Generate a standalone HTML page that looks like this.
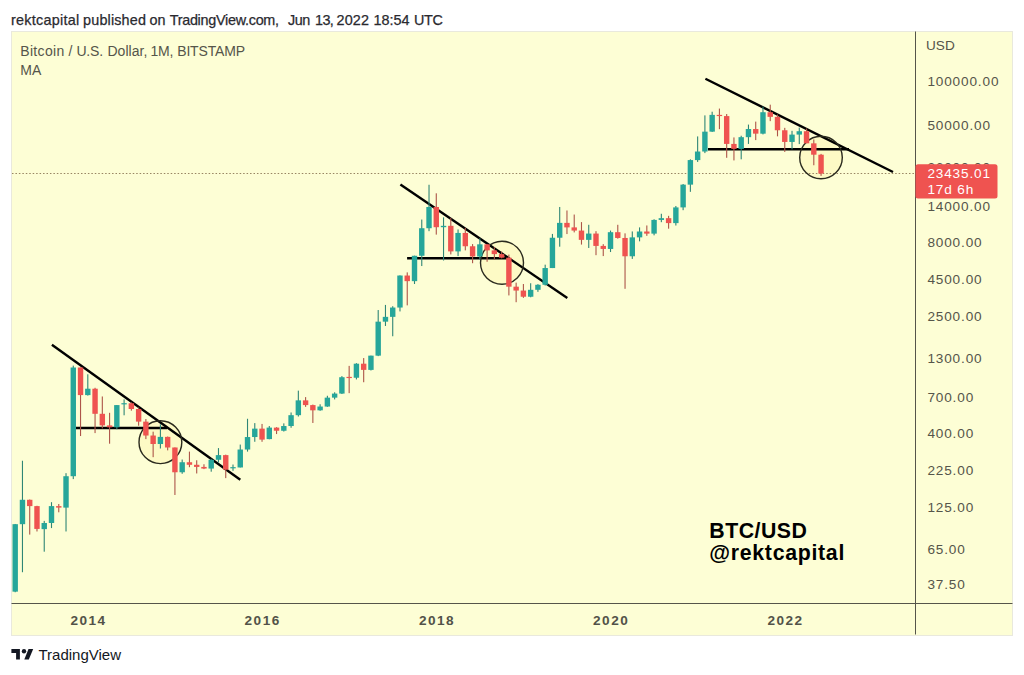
<!DOCTYPE html>
<html><head><meta charset="utf-8">
<style>
html,body{margin:0;padding:0;background:#fff;width:1024px;height:675px;overflow:hidden}
svg{display:block}
text{font-family:"Liberation Sans",sans-serif}
.ax{font-size:13.6px;fill:#55554a;letter-spacing:0.85px}
.xl{font-size:13.6px;font-weight:bold;fill:#525248;letter-spacing:1.5px}
</style></head><body>
<svg width="1024" height="675" viewBox="0 0 1024 675">
<rect x="0" y="0" width="1024" height="675" fill="#ffffff"/>
<text y="24.9" font-size="14.4" fill="#2a2a2f" stroke="#2a2a2f" stroke-width="0.25"><tspan x="11.00" letter-spacing="0.25">rektcapital</tspan><tspan x="83.10" letter-spacing="0.15">published</tspan><tspan x="149.50" letter-spacing="0">on</tspan><tspan x="169.70" letter-spacing="-0.28">TradingView.com,</tspan><tspan x="287.90" letter-spacing="-0.45">Jun</tspan><tspan x="315.00" letter-spacing="-0.6">13,</tspan><tspan x="336.60" letter-spacing="0.12">2022</tspan><tspan x="373.60" letter-spacing="0">18:54</tspan><tspan x="414.10" letter-spacing="-0.45">UTC</tspan></text>
<rect x="11.5" y="31.5" width="1001" height="604" fill="#fdfed5" stroke="#e9e9dd" stroke-width="1"/>
<text y="55.8" font-size="14" fill="#55554a"><tspan x="20.20" letter-spacing="0.35">Bitcoin</tspan><tspan x="68.60" letter-spacing="0">/</tspan><tspan x="76.40" letter-spacing="-0.2">U.S.</tspan><tspan x="107.40" letter-spacing="0.05">Dollar,</tspan><tspan x="150.60" letter-spacing="-0.3">1M,</tspan><tspan x="177.20" letter-spacing="-0.15">BITSTAMP</tspan></text>
<text x="20.3" y="75" font-size="14" fill="#55554a">MA</text>
<text x="926" y="50.2" font-size="13.6" fill="#55554a">USD</text>
<g fill="rgba(255,230,120,0.16)">
<circle cx="160.4" cy="442.2" r="21.4"/>
<circle cx="502" cy="262.7" r="21.5"/>
<circle cx="821" cy="157.5" r="21.3"/>
</g>
<line x1="12" y1="173.57" x2="915" y2="173.57" stroke="#978462" stroke-width="1.1" stroke-dasharray="1.5,1.95"/>
<!-- drawings -->
<g stroke="#000" stroke-width="2.4" stroke-linecap="butt" fill="none">
<line x1="51.9" y1="344.7" x2="240.3" y2="479.8"/>
<line x1="76" y1="428" x2="167" y2="428"/>
<line x1="400.4" y1="184.5" x2="567.3" y2="298"/>
<line x1="407.1" y1="258.3" x2="509.3" y2="258.3"/>
<line x1="705.4" y1="78.8" x2="893" y2="172"/>
<line x1="708" y1="149.3" x2="849" y2="149.3"/>
</g>
<g stroke="#2a2a1e" stroke-width="1.4" fill="none">
<circle cx="160.4" cy="442.2" r="21.4"/>
<circle cx="502" cy="262.7" r="21.5"/>
<circle cx="821" cy="157.5" r="21.3"/>
</g>
<g>
<rect x="14.65" y="523.97" width="1.1" height="68.26" fill="#2f8676"/>
<rect x="12.50" y="524.17" width="5.4" height="67.49" fill="#26a69a"/>
<rect x="21.91" y="460.74" width="1.1" height="111.48" fill="#2f8676"/>
<rect x="19.76" y="499.78" width="5.4" height="24.39" fill="#26a69a"/>
<rect x="29.17" y="499.55" width="1.1" height="35.04" fill="#ad5549"/>
<rect x="27.02" y="499.78" width="5.4" height="6.32" fill="#ef5350"/>
<rect x="36.43" y="505.80" width="1.1" height="25.67" fill="#ad5549"/>
<rect x="34.28" y="506.10" width="5.4" height="22.82" fill="#ef5350"/>
<rect x="43.69" y="520.88" width="1.1" height="30.81" fill="#2f8676"/>
<rect x="41.54" y="522.99" width="5.4" height="6.15" fill="#26a69a"/>
<rect x="50.95" y="502.18" width="1.1" height="25.89" fill="#2f8676"/>
<rect x="48.80" y="506.10" width="5.4" height="16.89" fill="#26a69a"/>
<rect x="58.21" y="503.99" width="1.1" height="8.30" fill="#ad5549"/>
<rect x="56.06" y="506.10" width="5.4" height="1.52" fill="#ef5350"/>
<rect x="65.47" y="473.16" width="1.1" height="58.31" fill="#2f8676"/>
<rect x="63.32" y="476.22" width="5.4" height="31.40" fill="#26a69a"/>
<rect x="72.73" y="365.61" width="1.1" height="113.49" fill="#2f8676"/>
<rect x="70.58" y="367.51" width="5.4" height="108.70" fill="#26a69a"/>
<rect x="79.99" y="367.51" width="1.1" height="68.52" fill="#ad5549"/>
<rect x="77.84" y="367.51" width="5.4" height="27.58" fill="#ef5350"/>
<rect x="87.25" y="374.29" width="1.1" height="21.29" fill="#2f8676"/>
<rect x="85.10" y="388.72" width="5.4" height="6.38" fill="#26a69a"/>
<rect x="94.51" y="387.77" width="1.1" height="45.33" fill="#ad5549"/>
<rect x="92.36" y="388.72" width="5.4" height="25.09" fill="#ef5350"/>
<rect x="101.77" y="396.47" width="1.1" height="31.88" fill="#ad5549"/>
<rect x="99.62" y="413.80" width="5.4" height="11.60" fill="#ef5350"/>
<rect x="109.03" y="412.82" width="1.1" height="30.88" fill="#ad5549"/>
<rect x="106.88" y="425.40" width="5.4" height="1.89" fill="#ef5350"/>
<rect x="116.29" y="405.09" width="1.1" height="24.15" fill="#2f8676"/>
<rect x="114.14" y="405.09" width="5.4" height="22.20" fill="#26a69a"/>
<rect x="123.55" y="399.40" width="1.1" height="15.90" fill="#2f8676"/>
<rect x="121.40" y="403.17" width="5.4" height="1.20" fill="#26a69a"/>
<rect x="130.81" y="402.28" width="1.1" height="8.38" fill="#ad5549"/>
<rect x="128.66" y="403.27" width="5.4" height="5.73" fill="#ef5350"/>
<rect x="138.07" y="407.39" width="1.1" height="18.35" fill="#ad5549"/>
<rect x="135.92" y="409.00" width="5.4" height="12.62" fill="#ef5350"/>
<rect x="145.33" y="419.02" width="1.1" height="20.08" fill="#ad5549"/>
<rect x="143.18" y="421.63" width="5.4" height="13.90" fill="#ef5350"/>
<rect x="152.59" y="431.68" width="1.1" height="25.48" fill="#ad5549"/>
<rect x="150.44" y="435.53" width="5.4" height="8.47" fill="#ef5350"/>
<rect x="159.85" y="424.34" width="1.1" height="24.16" fill="#2f8676"/>
<rect x="157.70" y="436.87" width="5.4" height="7.14" fill="#26a69a"/>
<rect x="167.11" y="436.53" width="1.1" height="13.82" fill="#ad5549"/>
<rect x="164.96" y="436.87" width="5.4" height="10.63" fill="#ef5350"/>
<rect x="174.37" y="447.49" width="1.1" height="47.49" fill="#ad5549"/>
<rect x="172.22" y="447.49" width="5.4" height="24.78" fill="#ef5350"/>
<rect x="181.63" y="459.53" width="1.1" height="14.24" fill="#2f8676"/>
<rect x="179.48" y="462.23" width="5.4" height="10.04" fill="#26a69a"/>
<rect x="188.89" y="451.61" width="1.1" height="15.58" fill="#ad5549"/>
<rect x="186.74" y="462.23" width="5.4" height="2.56" fill="#ef5350"/>
<rect x="196.15" y="460.25" width="1.1" height="13.21" fill="#ad5549"/>
<rect x="194.00" y="464.79" width="5.4" height="2.13" fill="#ef5350"/>
<rect x="203.41" y="464.27" width="1.1" height="4.85" fill="#ad5549"/>
<rect x="201.26" y="466.92" width="5.4" height="1.64" fill="#ef5350"/>
<rect x="210.67" y="458.81" width="1.1" height="12.88" fill="#2f8676"/>
<rect x="208.52" y="459.77" width="5.4" height="8.80" fill="#26a69a"/>
<rect x="217.93" y="448.09" width="1.1" height="14.39" fill="#2f8676"/>
<rect x="215.78" y="455.11" width="5.4" height="4.66" fill="#26a69a"/>
<rect x="225.19" y="454.66" width="1.1" height="23.46" fill="#ad5549"/>
<rect x="223.04" y="455.11" width="5.4" height="14.57" fill="#ef5350"/>
<rect x="232.45" y="464.53" width="1.1" height="6.29" fill="#2f8676"/>
<rect x="230.30" y="467.14" width="5.4" height="1.20" fill="#26a69a"/>
<rect x="239.71" y="444.57" width="1.1" height="22.89" fill="#2f8676"/>
<rect x="237.56" y="449.52" width="5.4" height="17.94" fill="#26a69a"/>
<rect x="246.97" y="418.77" width="1.1" height="32.84" fill="#2f8676"/>
<rect x="244.82" y="437.04" width="5.4" height="12.48" fill="#26a69a"/>
<rect x="254.23" y="423.10" width="1.1" height="18.67" fill="#2f8676"/>
<rect x="252.08" y="428.64" width="5.4" height="8.39" fill="#26a69a"/>
<rect x="261.49" y="423.93" width="1.1" height="17.85" fill="#ad5549"/>
<rect x="259.34" y="428.64" width="5.4" height="10.98" fill="#ef5350"/>
<rect x="268.75" y="426.03" width="1.1" height="13.25" fill="#2f8676"/>
<rect x="266.60" y="427.61" width="5.4" height="11.49" fill="#26a69a"/>
<rect x="276.01" y="427.18" width="1.1" height="6.88" fill="#ad5549"/>
<rect x="273.86" y="427.61" width="5.4" height="3.14" fill="#ef5350"/>
<rect x="283.27" y="423.38" width="1.1" height="8.15" fill="#2f8676"/>
<rect x="281.12" y="426.03" width="5.4" height="4.73" fill="#26a69a"/>
<rect x="290.53" y="412.48" width="1.1" height="15.28" fill="#2f8676"/>
<rect x="288.38" y="415.18" width="5.4" height="10.84" fill="#26a69a"/>
<rect x="297.79" y="390.65" width="1.1" height="25.87" fill="#2f8676"/>
<rect x="295.64" y="400.35" width="5.4" height="14.83" fill="#26a69a"/>
<rect x="305.05" y="397.10" width="1.1" height="9.76" fill="#ad5549"/>
<rect x="302.90" y="400.35" width="5.4" height="4.74" fill="#ef5350"/>
<rect x="312.31" y="404.58" width="1.1" height="18.39" fill="#ad5549"/>
<rect x="310.16" y="405.09" width="5.4" height="5.23" fill="#ef5350"/>
<rect x="319.57" y="404.28" width="1.1" height="6.50" fill="#2f8676"/>
<rect x="317.42" y="406.54" width="5.4" height="3.78" fill="#26a69a"/>
<rect x="326.83" y="395.76" width="1.1" height="11.10" fill="#2f8676"/>
<rect x="324.68" y="397.65" width="5.4" height="8.90" fill="#26a69a"/>
<rect x="334.09" y="392.31" width="1.1" height="7.10" fill="#2f8676"/>
<rect x="331.94" y="393.58" width="5.4" height="4.07" fill="#26a69a"/>
<rect x="341.35" y="376.09" width="1.1" height="17.92" fill="#2f8676"/>
<rect x="339.20" y="377.21" width="5.4" height="16.37" fill="#26a69a"/>
<rect x="348.61" y="365.88" width="1.1" height="27.27" fill="#ad5549"/>
<rect x="346.46" y="376.87" width="5.4" height="1.20" fill="#ef5350"/>
<rect x="355.87" y="363.17" width="1.1" height="16.26" fill="#2f8676"/>
<rect x="353.72" y="363.70" width="5.4" height="14.04" fill="#26a69a"/>
<rect x="363.13" y="358.06" width="1.1" height="24.17" fill="#ad5549"/>
<rect x="360.98" y="363.70" width="5.4" height="6.19" fill="#ef5350"/>
<rect x="370.39" y="355.65" width="1.1" height="14.83" fill="#2f8676"/>
<rect x="368.24" y="355.65" width="5.4" height="14.24" fill="#26a69a"/>
<rect x="377.65" y="310.03" width="1.1" height="46.10" fill="#2f8676"/>
<rect x="375.50" y="321.66" width="5.4" height="33.99" fill="#26a69a"/>
<rect x="384.91" y="304.92" width="1.1" height="21.04" fill="#2f8676"/>
<rect x="382.76" y="316.86" width="5.4" height="4.81" fill="#26a69a"/>
<rect x="392.17" y="306.22" width="1.1" height="30.03" fill="#2f8676"/>
<rect x="390.02" y="307.54" width="5.4" height="9.32" fill="#26a69a"/>
<rect x="399.43" y="275.39" width="1.1" height="36.04" fill="#2f8676"/>
<rect x="397.28" y="275.53" width="5.4" height="32.01" fill="#26a69a"/>
<rect x="406.69" y="272.38" width="1.1" height="32.98" fill="#ad5549"/>
<rect x="404.54" y="275.53" width="5.4" height="5.62" fill="#ef5350"/>
<rect x="413.95" y="255.68" width="1.1" height="28.33" fill="#2f8676"/>
<rect x="411.80" y="255.78" width="5.4" height="25.38" fill="#26a69a"/>
<rect x="421.21" y="219.54" width="1.1" height="46.50" fill="#2f8676"/>
<rect x="419.06" y="228.22" width="5.4" height="27.56" fill="#26a69a"/>
<rect x="428.47" y="184.75" width="1.1" height="46.42" fill="#2f8676"/>
<rect x="426.32" y="206.98" width="5.4" height="21.24" fill="#26a69a"/>
<rect x="435.73" y="193.30" width="1.1" height="41.32" fill="#ad5549"/>
<rect x="433.58" y="206.98" width="5.4" height="20.22" fill="#ef5350"/>
<rect x="442.99" y="217.34" width="1.1" height="43.15" fill="#2f8676"/>
<rect x="440.84" y="225.83" width="5.4" height="1.37" fill="#26a69a"/>
<rect x="450.25" y="217.88" width="1.1" height="36.53" fill="#ad5549"/>
<rect x="448.10" y="225.83" width="5.4" height="25.56" fill="#ef5350"/>
<rect x="457.51" y="229.45" width="1.1" height="26.62" fill="#2f8676"/>
<rect x="455.36" y="232.94" width="5.4" height="18.45" fill="#26a69a"/>
<rect x="464.77" y="227.96" width="1.1" height="22.42" fill="#ad5549"/>
<rect x="462.62" y="232.94" width="5.4" height="13.31" fill="#ef5350"/>
<rect x="472.03" y="244.08" width="1.1" height="19.13" fill="#ad5549"/>
<rect x="469.88" y="246.25" width="5.4" height="10.22" fill="#ef5350"/>
<rect x="479.29" y="238.27" width="1.1" height="21.17" fill="#2f8676"/>
<rect x="477.14" y="244.33" width="5.4" height="12.15" fill="#26a69a"/>
<rect x="486.55" y="244.08" width="1.1" height="17.70" fill="#ad5549"/>
<rect x="484.40" y="244.33" width="5.4" height="6.06" fill="#ef5350"/>
<rect x="493.81" y="247.11" width="1.1" height="12.33" fill="#ad5549"/>
<rect x="491.66" y="250.38" width="5.4" height="3.74" fill="#ef5350"/>
<rect x="501.07" y="251.57" width="1.1" height="6.82" fill="#ad5549"/>
<rect x="498.92" y="254.12" width="5.4" height="3.56" fill="#ef5350"/>
<rect x="508.33" y="254.60" width="1.1" height="40.82" fill="#ad5549"/>
<rect x="506.18" y="257.68" width="5.4" height="29.00" fill="#ef5350"/>
<rect x="515.59" y="282.64" width="1.1" height="19.57" fill="#ad5549"/>
<rect x="513.44" y="286.68" width="5.4" height="3.88" fill="#ef5350"/>
<rect x="522.85" y="284.01" width="1.1" height="13.85" fill="#ad5549"/>
<rect x="520.70" y="290.56" width="5.4" height="6.17" fill="#ef5350"/>
<rect x="530.11" y="283.24" width="1.1" height="14.05" fill="#2f8676"/>
<rect x="527.96" y="289.80" width="5.4" height="6.93" fill="#26a69a"/>
<rect x="537.37" y="284.16" width="1.1" height="7.69" fill="#2f8676"/>
<rect x="535.22" y="284.78" width="5.4" height="5.02" fill="#26a69a"/>
<rect x="544.63" y="264.66" width="1.1" height="20.90" fill="#2f8676"/>
<rect x="542.48" y="268.04" width="5.4" height="16.74" fill="#26a69a"/>
<rect x="551.89" y="233.92" width="1.1" height="34.13" fill="#2f8676"/>
<rect x="549.74" y="237.75" width="5.4" height="30.30" fill="#26a69a"/>
<rect x="559.15" y="206.98" width="1.1" height="39.70" fill="#2f8676"/>
<rect x="557.00" y="222.87" width="5.4" height="14.87" fill="#26a69a"/>
<rect x="566.41" y="210.48" width="1.1" height="23.58" fill="#ad5549"/>
<rect x="564.26" y="222.87" width="5.4" height="4.52" fill="#ef5350"/>
<rect x="573.67" y="214.54" width="1.1" height="17.86" fill="#ad5549"/>
<rect x="571.52" y="227.39" width="5.4" height="3.18" fill="#ef5350"/>
<rect x="580.93" y="222.11" width="1.1" height="22.46" fill="#ad5549"/>
<rect x="578.78" y="230.57" width="5.4" height="9.29" fill="#ef5350"/>
<rect x="588.19" y="224.79" width="1.1" height="23.19" fill="#2f8676"/>
<rect x="586.04" y="233.57" width="5.4" height="6.30" fill="#26a69a"/>
<rect x="595.45" y="231.17" width="1.1" height="24.01" fill="#ad5549"/>
<rect x="593.30" y="233.57" width="5.4" height="12.35" fill="#ef5350"/>
<rect x="602.71" y="244.16" width="1.1" height="11.91" fill="#ad5549"/>
<rect x="600.56" y="245.91" width="5.4" height="3.03" fill="#ef5350"/>
<rect x="609.97" y="230.57" width="1.1" height="21.47" fill="#2f8676"/>
<rect x="607.82" y="232.19" width="5.4" height="16.76" fill="#26a69a"/>
<rect x="617.23" y="224.79" width="1.1" height="13.86" fill="#ad5549"/>
<rect x="615.08" y="232.19" width="5.4" height="5.78" fill="#ef5350"/>
<rect x="624.49" y="233.36" width="1.1" height="55.44" fill="#ad5549"/>
<rect x="622.34" y="237.97" width="5.4" height="18.30" fill="#ef5350"/>
<rect x="631.75" y="231.44" width="1.1" height="27.47" fill="#2f8676"/>
<rect x="629.60" y="237.37" width="5.4" height="18.90" fill="#26a69a"/>
<rect x="639.01" y="227.39" width="1.1" height="13.95" fill="#2f8676"/>
<rect x="636.86" y="231.51" width="5.4" height="5.86" fill="#26a69a"/>
<rect x="646.27" y="225.46" width="1.1" height="10.38" fill="#ad5549"/>
<rect x="644.12" y="231.51" width="5.4" height="2.13" fill="#ef5350"/>
<rect x="653.53" y="219.26" width="1.1" height="16.07" fill="#2f8676"/>
<rect x="651.38" y="219.93" width="5.4" height="13.70" fill="#26a69a"/>
<rect x="660.79" y="213.77" width="1.1" height="8.40" fill="#2f8676"/>
<rect x="658.64" y="218.16" width="5.4" height="1.78" fill="#26a69a"/>
<rect x="668.05" y="215.84" width="1.1" height="12.83" fill="#ad5549"/>
<rect x="665.90" y="218.16" width="5.4" height="4.95" fill="#ef5350"/>
<rect x="675.31" y="205.98" width="1.1" height="19.54" fill="#2f8676"/>
<rect x="673.16" y="207.40" width="5.4" height="15.71" fill="#26a69a"/>
<rect x="682.57" y="184.00" width="1.1" height="26.19" fill="#2f8676"/>
<rect x="680.42" y="184.64" width="5.4" height="22.76" fill="#26a69a"/>
<rect x="689.83" y="159.32" width="1.1" height="32.52" fill="#2f8676"/>
<rect x="687.68" y="160.08" width="5.4" height="24.56" fill="#26a69a"/>
<rect x="697.09" y="136.42" width="1.1" height="25.50" fill="#2f8676"/>
<rect x="694.94" y="151.52" width="5.4" height="8.57" fill="#26a69a"/>
<rect x="704.35" y="115.37" width="1.1" height="37.73" fill="#2f8676"/>
<rect x="702.20" y="131.66" width="5.4" height="19.86" fill="#26a69a"/>
<rect x="711.61" y="111.72" width="1.1" height="20.22" fill="#2f8676"/>
<rect x="709.46" y="114.88" width="5.4" height="16.78" fill="#26a69a"/>
<rect x="718.87" y="108.58" width="1.1" height="20.59" fill="#ad5549"/>
<rect x="716.72" y="114.88" width="5.4" height="1.20" fill="#ef5350"/>
<rect x="726.13" y="114.02" width="1.1" height="43.79" fill="#ad5549"/>
<rect x="723.98" y="116.08" width="5.4" height="27.83" fill="#ef5350"/>
<rect x="733.39" y="137.42" width="1.1" height="23.00" fill="#ad5549"/>
<rect x="731.24" y="143.92" width="5.4" height="4.98" fill="#ef5350"/>
<rect x="740.65" y="135.74" width="1.1" height="23.58" fill="#2f8676"/>
<rect x="738.50" y="137.17" width="5.4" height="11.72" fill="#26a69a"/>
<rect x="747.91" y="124.59" width="1.1" height="19.33" fill="#2f8676"/>
<rect x="745.76" y="129.03" width="5.4" height="8.14" fill="#26a69a"/>
<rect x="755.17" y="121.62" width="1.1" height="18.47" fill="#ad5549"/>
<rect x="753.02" y="129.03" width="5.4" height="4.63" fill="#ef5350"/>
<rect x="762.43" y="106.55" width="1.1" height="27.85" fill="#2f8676"/>
<rect x="760.28" y="112.22" width="5.4" height="21.45" fill="#26a69a"/>
<rect x="769.69" y="104.67" width="1.1" height="16.47" fill="#ad5549"/>
<rect x="767.54" y="112.22" width="5.4" height="4.64" fill="#ef5350"/>
<rect x="776.95" y="114.55" width="1.1" height="21.79" fill="#ad5549"/>
<rect x="774.80" y="116.86" width="5.4" height="13.40" fill="#ef5350"/>
<rect x="784.21" y="127.84" width="1.1" height="24.08" fill="#ad5549"/>
<rect x="782.06" y="130.26" width="5.4" height="11.68" fill="#ef5350"/>
<rect x="791.47" y="130.82" width="1.1" height="18.45" fill="#2f8676"/>
<rect x="789.32" y="134.61" width="5.4" height="7.34" fill="#26a69a"/>
<rect x="798.73" y="127.56" width="1.1" height="16.53" fill="#2f8676"/>
<rect x="796.58" y="131.22" width="5.4" height="3.38" fill="#26a69a"/>
<rect x="805.99" y="128.57" width="1.1" height="14.66" fill="#ad5549"/>
<rect x="803.84" y="131.22" width="5.4" height="12.11" fill="#ef5350"/>
<rect x="813.25" y="139.46" width="1.1" height="25.79" fill="#ad5549"/>
<rect x="811.10" y="143.34" width="5.4" height="11.36" fill="#ef5350"/>
<rect x="820.51" y="153.89" width="1.1" height="21.99" fill="#ad5549"/>
<rect x="818.36" y="154.70" width="5.4" height="18.87" fill="#ef5350"/>
</g>
<text x="709.3" y="537.6" font-size="21.3" font-weight="bold" fill="#000" letter-spacing="0.5">BTC/USD</text>
<text x="709.3" y="560" font-size="21.3" font-weight="bold" fill="#000" letter-spacing="0.7">@rektcapital</text>
<!-- axes -->
<line x1="915.5" y1="31.5" x2="915.5" y2="634.5" stroke="#55554a" stroke-width="1"/>
<line x1="11.5" y1="603.5" x2="1012.5" y2="603.5" stroke="#55554a" stroke-width="1"/>
<text x="927.4" y="85.8" class="ax">100000.00</text>
<text x="927.4" y="130.0" class="ax">50000.00</text>
<text x="927.4" y="171.7" class="ax">26000.00</text>
<text x="927.4" y="211.2" class="ax">14000.00</text>
<text x="927.4" y="246.9" class="ax">8000.00</text>
<text x="927.4" y="283.6" class="ax">4500.00</text>
<text x="927.4" y="321.1" class="ax">2500.00</text>
<text x="927.4" y="362.9" class="ax">1300.00</text>
<text x="927.4" y="402.4" class="ax">700.00</text>
<text x="927.4" y="438.1" class="ax">400.00</text>
<text x="927.4" y="474.8" class="ax">225.00</text>
<text x="927.4" y="512.3" class="ax">125.00</text>
<text x="927.4" y="554.0" class="ax">65.00</text>
<text x="927.4" y="589.1" class="ax">37.50</text>
<rect x="915.5" y="164.2" width="82" height="34.3" rx="2.5" fill="#ef5350"/>
<text x="927.4" y="178.3" class="ax" style="fill:#fff">23435.01</text>
<text x="927.4" y="194" class="ax" style="fill:#fff">17d 6h</text>
<text x="88.5" y="625.1" class="xl" text-anchor="middle">2014</text>
<text x="262.7" y="625.1" class="xl" text-anchor="middle">2016</text>
<text x="437.0" y="625.1" class="xl" text-anchor="middle">2018</text>
<text x="611.2" y="625.1" class="xl" text-anchor="middle">2020</text>
<text x="785.5" y="625.1" class="xl" text-anchor="middle">2022</text>
<!-- logo -->
<g fill="#131722">
<path d="M11.4 649 H19.9 V659.6 H16.1 V652.9 H11.4 Z"/>
<circle cx="24" cy="651.2" r="2.2"/>
<path d="M28.5 649 H33.2 L28.8 659.6 H24.3 Z"/>
</g>
<text x="38.5" y="660" font-size="15" fill="#131722">TradingView</text>
</svg>
</body></html>
